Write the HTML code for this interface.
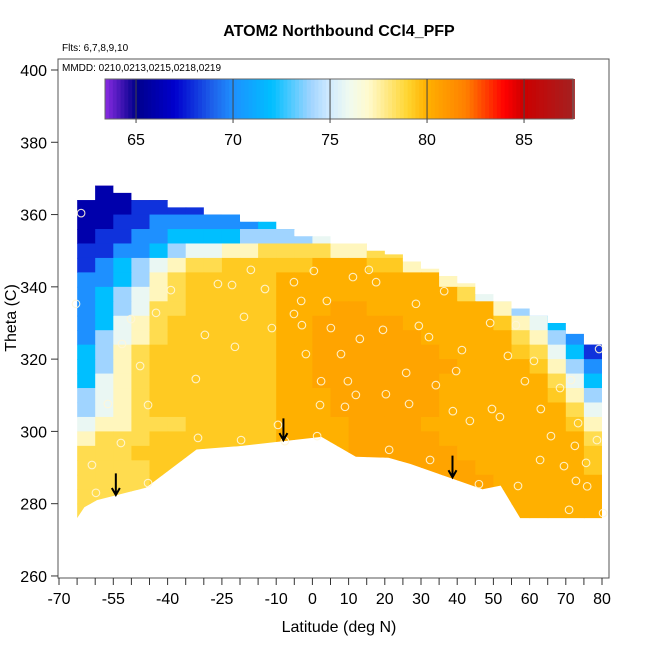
<!DOCTYPE html>
<html><head><meta charset="utf-8"><style>
html,body{margin:0;padding:0;background:#fff;}
svg{display:block;font-family:"Liberation Sans",Arial,sans-serif;}
</style></head><body>
<svg id="chart" width="650" height="650" viewBox="0 0 650 650" xmlns="http://www.w3.org/2000/svg">
<rect width="650" height="650" fill="#fff"/>
<text x="339" y="36" text-anchor="middle" font-size="16" font-weight="bold">ATOM2 Northbound CCl4_PFP</text>
<text x="62" y="51" font-size="10">Flts: 6,7,8,9,10</text>
<g id="field"></g>
<g id="circles"></g>
<g id="arrows"></g>
<rect x="58" y="59" width="551" height="519" fill="none" stroke="#555" stroke-width="1"/>
<text x="62" y="71" font-size="10">MMDD: 0210,0213,0215,0218,0219</text>
<g id="cbar"></g>
<g id="axes"></g>
<text transform="translate(16,318) rotate(-90)" text-anchor="middle" font-size="16">Theta (C)</text>
<text x="339" y="632" text-anchor="middle" font-size="16">Latitude (deg N)</text>
</svg>
<script>
const xTicks=[-70,-65,-60,-55,-50,-45,-40,-35,-30,-25,-20,-15,-10,-5,0,5,10,15,20,25,30,35,40,45,50,55,60,65,70,75,80];
const xLabels=[-70,-55,-40,-25,-10,0,10,20,30,40,50,60,70,80];
const yTicks=[260,280,300,320,340,360,380,400];
const cbTicks=[65,70,75,80,85];
const colLat0=[-65,-60,-55,-50,-45,-40,-35,-30,-25,-20,-15,-10,-5,0,5,10,15,20,25,30,35,40,45,50,55,60,65,70,75];
const colTop=[364,368,366,364,364,362,362,360,360,358,358,356,354,354,352,352,350,349,347,345,343,341,338,336,334,332,330,327,324];
const rowTheta=[370,366,362,358,354,350,346,342,338,334,330,326,322,318,314,310,306,302,298,294,290,286,282,278];
const grid=[
"aabbbbbbbbbbbbbbbbbbbbbbbbbbb",
"bbbbbbccccccccccccccccccccccc",
"bbbcccccdddddeeeeeeeeeeeeeeee",
"bbccddddddeeeeeefffffffffffff",
"bccddeeeeffffgghhhhhhhhhhhhhh",
"ccddefgghhiiiihhiiiiiiiiiiiii",
"cdefghiijjjjjkkkjjhhhhhhhhhhh",
"ddefhijjjjjkkkkkkkkkhhhhhhhhh",
"defghijjjjjkkkkkkkkkkiggggggg",
"defgiijjjjjkkkllkkkkkkkhfffff",
"deghijjjjjjkklllllkkkkkjhgedd",
"dfghijjjjjjkkllllllkkkkkihfdc",
"efhijjjjjjjkklllllllkkkkjigec",
"efhijjjjjjjkkllllllllkkkkjhfd",
"eghijjjjjjjkklllllllkkkkkkige",
"fghijjjjjjjkkkllllllkkkkkkjhf",
"fghijjjjjjjkkkllllllkkkkkkkig",
"ghhiiijjjjjkkkkllllkkkkkkkkjh",
"hiiijjjjjjjkkkklllllkkkkkkkki",
"iiijjjjjjjjkkkkllllllkkkkkkkj",
"iiiijjjjjjjkkkklllllllkkkkkkj",
"iiiijjjjjjjkkkkllllllllkkkkkk",
"iiiijjjjjjjkkkkllllllllkkkkkk",
"iiiijjjjjjjkkkkllllllllkkkkkk"];
const codeValue={a:64,b:66,c:68,d:70,e:72,f:74,g:75.8,h:77.2,i:78.6,j:79.3,k:80.0,l:80.5};
const bottomLat=[-65,-63,-59.5,-46,-32,-19.5,2.5,12,21,27,47,52,57.4,80];
const bottomTheta=[276,279,281,284.4,295,296,298.5,293,292.7,291,284,285,276,276];
const ptLat=[-65.3,-63.9,-60.9,-59.8,-56.5,-52.9,-52.6,-50.1,-47.6,-45.4,-45.4,-43.2,-39.1,-32.2,-31.6,-29.7,-26.1,-22.2,-21.4,-19.7,-18.9,-17.0,-13.1,-11.2,-9.5,-7.6,-5.1,-5.1,-3.1,-2.9,-1.8,0.4,1.3,2.1,2.4,4.0,5.1,7.9,9.0,9.8,11.2,12.0,13.1,15.6,17.6,19.5,20.3,21.2,25.9,26.7,28.6,29.4,32.2,32.5,34.1,36.4,38.8,39.7,41.3,43.5,46.0,49.1,49.6,51.8,54.0,56.2,56.8,58.7,61.2,62.9,63.1,65.9,68.4,69.5,71.4,72.5,72.8,73.4,70.9,75.6,75.9,79.2,78.6,80.3];
const ptTheta=[335.3,360.4,290.7,283.0,307.6,296.8,324.2,331.1,318.1,307.3,285.7,332.8,339.1,314.5,298.2,326.7,340.8,340.5,323.4,297.6,331.7,344.7,339.4,328.6,301.8,297.3,332.5,341.3,336.1,329.4,321.4,344.4,298.7,307.3,313.9,336.1,328.6,321.4,306.8,313.9,342.7,310.1,325.6,344.7,341.3,328.1,310.3,294.9,316.2,307.6,335.3,329.2,326.1,292.1,312.8,338.8,305.6,316.7,322.5,302.9,285.4,330.0,306.2,304.0,320.9,329.4,284.9,313.9,319.5,292.1,306.2,298.7,312.0,290.4,314.2,296.0,286.3,302.3,278.3,291.3,284.8,322.8,297.6,277.4];
const arrowLat=[-54.3,-8.0,38.7];
const arrowTheta=[282.4,297.6,287.3];
const arrowLen=6;

const NS='http://www.w3.org/2000/svg';
const xS=lat=>59+(lat+70)*3.62;
const yS=t=>70+(400-t)*3.614;
const stops=[[63.4,[138,43,226]],[65,[0,0,139]],[67,[0,0,205]],[69,[30,100,235]],[70,[30,144,255]],[72,[0,191,255]],[74,[160,212,255]],[75,[210,235,255]],[76,[240,250,240]],[77,[255,250,205]],[79,[255,213,48]],[80,[255,176,0]],[82,[255,128,0]],[84,[255,0,0]],[85,[204,0,0]],[87.5,[165,32,32]]];
function cmap(v){
  if(v<=stops[0][0]) return 'rgb('+stops[0][1]+')';
  for(let i=1;i<stops.length;i++){
    if(v<=stops[i][0]){
      const [v0,c0]=stops[i-1],[v1,c1]=stops[i];const f=(v-v0)/(v1-v0);
      return 'rgb('+c0.map((c,k)=>Math.round(c+(c1[k]-c)*f)).join(',')+')';
    }
  }
  return 'rgb('+stops[stops.length-1][1]+')';
}
function mk(tag,attrs,parent){const e=document.createElementNS(NS,tag);for(const k in attrs)e.setAttribute(k,attrs[k]);parent.appendChild(e);return e;}
const svg=document.getElementById('chart');
const defs=mk('defs',{},svg);
const cp=mk('clipPath',{id:'fieldClip'},defs);
let pts=[];
colLat0.forEach((l,i)=>{pts.push(xS(l)+','+yS(colTop[i]));pts.push(xS(l+5)+','+yS(colTop[i]));});
for(let i=bottomLat.length-1;i>=0;i--) pts.push(xS(bottomLat[i])+','+yS(bottomTheta[i]));
mk('polygon',{points:pts.join(' ')},cp);
const field=document.getElementById('field');
field.setAttribute('clip-path','url(#fieldClip)');
rowTheta.forEach((t,r)=>{
  colLat0.forEach((l,c)=>{
    const v=codeValue[grid[r][c]];
    const cell=mk('rect',{x:xS(l),y:yS(t+2),width:5*3.62+0.6,height:4*3.614+0.6,fill:cmap(v)},field);
    
    
  });
});
const cg=document.getElementById('circles');
ptLat.forEach((l,i)=>{
  const c=mk('circle',{cx:xS(l),cy:yS(ptTheta[i]),r:3.8,fill:'none',stroke:'#fff6d8','stroke-width':1.1,opacity:0.9},cg);
  
  
});
const ag=document.getElementById('arrows');
arrowLat.forEach((l,i)=>{
  const x=xS(l),y1=yS(arrowTheta[i]+arrowLen),y2=yS(arrowTheta[i]);
  const a=mk('path',{d:`M${x},${y1}L${x},${y2}M${x-4},${y2-7}L${x},${y2}L${x+4},${y2-7}`,stroke:'#000','stroke-width':2,fill:'none'},ag);
  
  
});
const cb=document.getElementById('cbar');
const cbX=v=>105+(v-63.4)*19.4;
for(let v=63.4;v<87.5;v+=0.2){
  mk('rect',{x:cbX(v),y:79,width:19.4*0.2+0.4,height:40,fill:cmap(v+0.1)},cb);
}
mk('rect',{x:105,y:79,width:468,height:40,fill:'none',stroke:'#666','stroke-width':1},cb);
cbTicks.forEach(v=>{
  mk('line',{x1:cbX(v),x2:cbX(v),y1:79,y2:123,stroke:'#444','stroke-width':1},cb);
  const t=mk('text',{x:cbX(v),y:145,'text-anchor':'middle','font-size':16},cb);
  t.textContent=v;
  
  
});
const ax=document.getElementById('axes');
xTicks.forEach(v=>mk('line',{x1:xS(v),x2:xS(v),y1:578,y2:585,stroke:'#333'},ax));
xLabels.forEach(v=>{
  const t=mk('text',{x:xS(v),y:604,'text-anchor':'middle','font-size':16},ax);
  t.textContent=v;
  
  
});
yTicks.forEach(v=>{
  mk('line',{x1:51,x2:58,y1:yS(v),y2:yS(v),stroke:'#333'},ax);
  const t=mk('text',{x:47,y:yS(v)+6,'text-anchor':'end','font-size':16},ax);
  t.textContent=v;
  
  
});
</script>
</body></html>
